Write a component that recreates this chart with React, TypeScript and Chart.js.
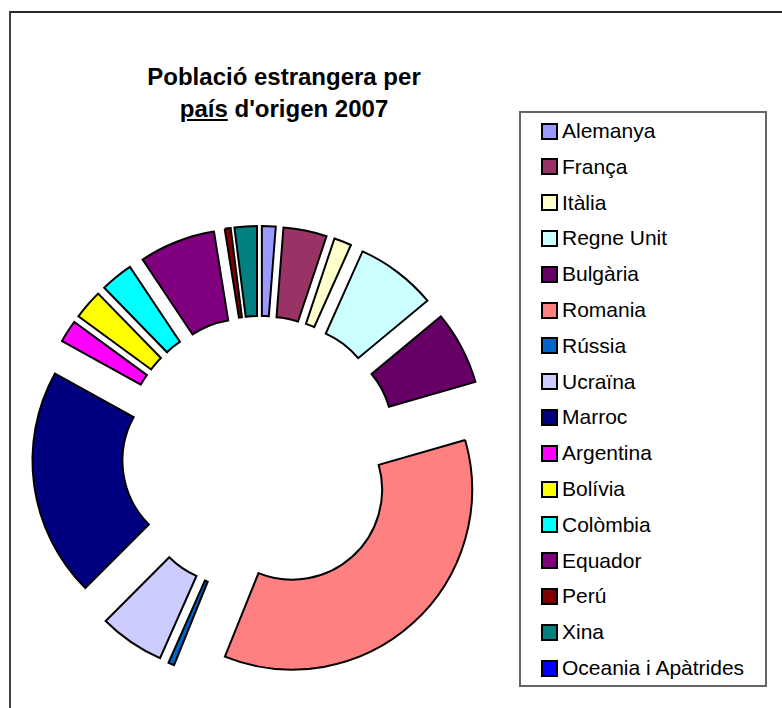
import React, { useEffect, useRef } from 'react';
import { Chart, registerables } from 'chart.js';

Chart.register(...registerables);

// ---- Data ----
const titleLine1 = 'Població estrangera per';
const titleUnderlined = 'país';
const titleRest = " d'origen 2007";

const categories = [
  'Alemanya',
  'França',
  'Itàlia',
  'Regne Unit',
  'Bulgària',
  'Romania',
  'Rússia',
  'Ucraïna',
  'Marroc',
  'Argentina',
  'Bolívia',
  'Colòmbia',
  'Equador',
  'Perú',
  'Xina',
  'Oceania i Apàtrides',
];

const population = [37, 117, 47, 218, 198, 1067, 16, 176, 617, 60, 80, 88, 205, 16, 60, 0];

const sliceColors = [
  '#9999FF',
  '#993366',
  '#FFFFCC',
  '#CCFFFF',
  '#660066',
  '#FF8080',
  '#0066CC',
  '#CCCCFF',
  '#000080',
  '#FF00FF',
  '#FFFF00',
  '#00FFFF',
  '#800080',
  '#800000',
  '#008080',
  '#0000FF',
];

// ---- Styling constants ----
const FONT = '"Liberation Sans", Arial, Helvetica, sans-serif';
const EXPLODE = 48; // px each slice is pulled out from the centre

const explodePlugin = {
  id: 'explodeSlices',
  afterDatasetUpdate(_chart: any, args: any) {
    args.meta.data.forEach((arc: any) => {
      const mid = (arc.startAngle + arc.endAngle) / 2;
      arc.x += Math.cos(mid) * EXPLODE;
      arc.y += Math.sin(mid) * EXPLODE;
    });
  },
};

export default function App() {
  const canvasRef = useRef<HTMLCanvasElement | null>(null);

  useEffect(() => {
    if (!canvasRef.current) return;
    const chart = new Chart(canvasRef.current, {
      type: 'doughnut',
      data: {
        labels: categories,
        datasets: [
          {
            data: population,
            backgroundColor: sliceColors,
            borderColor: '#000000',
            borderWidth: 2,
            borderJoinStyle: 'miter',
            hoverOffset: 0,
          } as any,
        ],
      },
      options: {
        responsive: false,
        animation: false,
        radius: 180,
        cutout: '50%',
        layout: { padding: 0 },
        plugins: {
          legend: { display: false },
          title: { display: false },
          tooltip: { enabled: false },
        },
        events: [],
      } as any,
      plugins: [explodePlugin],
    });
    return () => chart.destroy();
  }, []);

  const legendTop = 111;
  const firstItem = 131;
  const step = 35.8;

  return (
    <div
      style={{
        position: 'absolute',
        left: 0,
        top: 0,
        width: 782,
        height: 708,
        overflow: 'hidden',
        background: '#ffffff',
        fontFamily: FONT,
        color: '#000',
      }}
    >
      {/* outer chart frame (extends past the picture on right/bottom) */}
      <div
        style={{
          position: 'absolute',
          left: 9,
          top: 11,
          width: 1000,
          height: 1000,
          borderLeft: '2px solid #404040',
          borderTop: '2px solid #2a2a2a',
          boxSizing: 'border-box',
        }}
      />

      {/* title */}
      <div
        style={{
          position: 'absolute',
          left: 84,
          top: 61,
          width: 400,
          textAlign: 'center',
          fontWeight: 'bold',
          fontSize: 24,
          lineHeight: '32px',
          whiteSpace: 'nowrap',
        }}
      >
        <div>{titleLine1}</div>
        <div>
          <span style={{ textDecoration: 'underline' }}>{titleUnderlined}</span>
          {titleRest}
        </div>
      </div>

      {/* doughnut */}
      <canvas
        ref={canvasRef}
        width={500}
        height={500}
        style={{ position: 'absolute', left: 10, top: 204, width: 500, height: 500 }}
      />

      {/* legend box */}
      <div
        style={{
          position: 'absolute',
          left: 519,
          top: legendTop,
          width: 248,
          height: 687 - legendTop,
          border: '2px solid #666',
          boxSizing: 'border-box',
        }}
      />
      {categories.map((name, i) => {
        const cy = firstItem + i * step;
        return (
          <React.Fragment key={name}>
            <div
              style={{
                position: 'absolute',
                left: 541,
                top: cy - 8.5,
                width: 17,
                height: 17,
                background: sliceColors[i],
                border: '2px solid #000',
                boxSizing: 'border-box',
              }}
            />
            <div
              style={{
                position: 'absolute',
                left: 562,
                top: cy - 12,
                height: 24,
                lineHeight: '24px',
                fontSize: 21,
                whiteSpace: 'nowrap',
              }}
            >
              {name}
            </div>
          </React.Fragment>
        );
      })}
    </div>
  );
}
